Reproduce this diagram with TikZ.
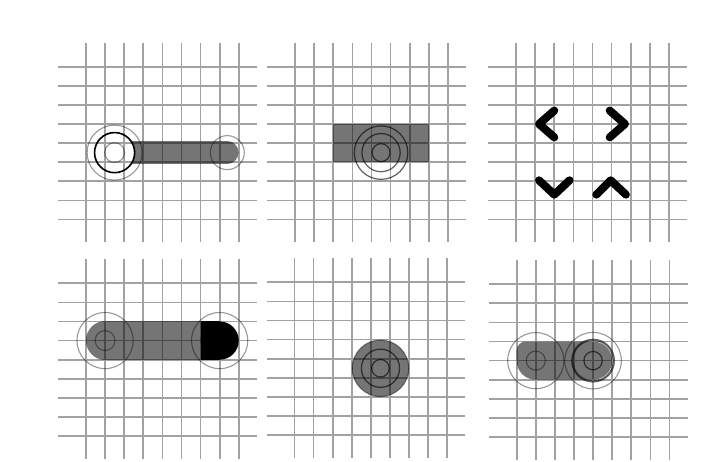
\documentclass[tikz,border=0pt]{standalone}
\usepackage{tikz}
\definecolor{gridGray}{HTML}{A2A2A2}

\newcommand{\padgrid}{%
  \foreach \k in {0,...,8} {
    \draw[gridline] (\k,-1.25) -- (\k,9.2);
    \draw[gridline] (-1.45,\k) -- (8.95,\k);
  }}

\begin{document}
\begin{tikzpicture}[x=19.1pt, y=-19.1pt,
    gridline/.style={draw=gridGray, line width=1.7pt},
    shade/.style={fill=black, fill opacity=0.54},
    ring/.style={draw=black, draw opacity=0.4, line width=1.1pt},
    darkring/.style={draw=black, draw opacity=0.62, line width=1.2pt},
    chevron/.style={line width=8pt, line cap=round, line join=round}]
    \useasboundingbox[fill=white] (0,0) rectangle (37.8,24.136);

    % drag: bar ends at the circle
    \begin{scope}[shift={(4.5,3.49)}]
        \padgrid
        \begin{scope}[even odd rule]
            \clip (-2,-2) rectangle (10,10) (1.5,4.5) circle (1.05);
            \draw[black, draw opacity=0.54, line width=22.5pt, line cap=round]
                (1.5,4.5) -- (7.4,4.5);
        \end{scope}
        \draw[black, line width=1.6pt] (1.5,4.5) circle (1.05);
        \draw[ring] (1.5,4.5) circle (0.52);
        \draw[ring] (1.5,4.5) circle (1.44);
        \draw[ring] (7.4,4.5) circle (0.89);
    \end{scope}

    % press on a block
    \begin{scope}[shift={(15.45,3.49)}]
        \padgrid
        \fill[shade] (2,3) rectangle (7,5);
        \draw[darkring] (4.5,4.5) circle (0.47);
        \draw[darkring] (4.5,4.5) circle (1.0);
        \draw[darkring] (4.5,4.5) circle (1.4);
    \end{scope}

    % four chevrons
    \begin{scope}[shift={(27.02,3.49)}]
        \padgrid
        \draw[chevron] (2.0,2.3) -- (1.2,3.0) -- (2.0,3.7);
        \draw[chevron] (4.9,2.3) -- (5.7,3.0) -- (4.9,3.7);
        \draw[chevron] (1.2,5.95) -- (2.0,6.7) -- (2.8,5.95);
        \draw[chevron] (4.2,6.7) -- (4.95,5.95) -- (5.75,6.7);
    \end{scope}

    % slide to a black end
    \begin{scope}[shift={(4.5,14.83)}]
        \padgrid
        \draw[black, draw opacity=0.54, line width=38.2pt, line cap=round]
            (1,3) -- (6,3);
        \fill[black] (6,2) rectangle (7,4);
        \fill[black] (7,3) circle (1);
        \draw[ring] (1,3) circle (0.52);
        \draw[ring] (1,3) circle (1.47);
        \draw[ring] (7,3) circle (1.47);
    \end{scope}

    % tap
    \begin{scope}[shift={(15.42,14.78)}]
        \padgrid
        \fill[shade] (4.5,4.5) circle (1.48);
        \draw[ring] (4.5,4.5) circle (1.48);
        \draw[darkring] (4.5,4.5) circle (1.0);
        \draw[darkring] (4.5,4.5) circle (0.46);
    \end{scope}

    % two touches
    \begin{scope}[shift={(27.05,14.88)}]
        \padgrid
        \fill[shade] (2,3) [rounded corners=19pt] -- (5,3) -- (5,5) -- (0,5)
            [rounded corners=9pt] -- (0,3) [sharp corners] -- cycle;
        \draw[ring] (1,4) circle (0.5);
        \draw[ring] (1,4) circle (1.47);
        \draw[darkring] (4,4) circle (0.48);
        \draw[darkring, line width=2.2pt] (4,4) circle (1.09);
        \draw[ring] (4,4) circle (1.48);
    \end{scope}
\end{tikzpicture}
\end{document}
